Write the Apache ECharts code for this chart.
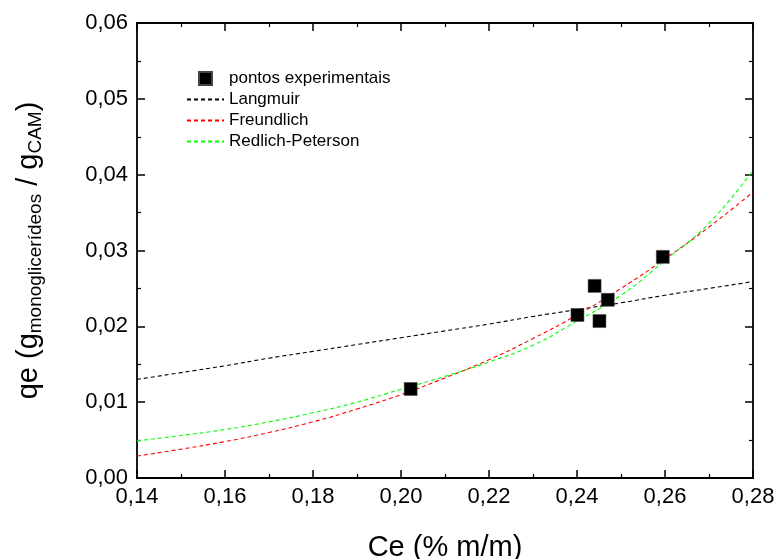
<!DOCTYPE html>
<html>
<head>
<meta charset="utf-8">
<script src="https://cdn.jsdelivr.net/npm/echarts@6/dist/echarts.min.js"></script>
<style>html,body{margin:0;padding:0;background:#fff}#c{width:776px;height:559px}</style>
</head>
<body>
<div id="c"></div>
<script>
// Experimental points
var expCe = [0.2022, 0.2401, 0.2440, 0.2451, 0.2470, 0.2595];
var expQe = [0.01174, 0.0215, 0.02533, 0.0207, 0.0235, 0.02916];
// Model curves at these Ce values
var curveCe = [0.14, 0.15, 0.16, 0.17, 0.18, 0.19, 0.20, 0.21, 0.22, 0.23, 0.24, 0.25, 0.26, 0.27, 0.28];
var langmuir = [0.0130, 0.0139, 0.0148, 0.0158, 0.0167, 0.0176, 0.0185, 0.0194, 0.0203, 0.0213, 0.0222, 0.0231, 0.0241, 0.0250, 0.0259];
var freundlich = [0.0029, 0.0038, 0.0048, 0.0060, 0.0074, 0.0091, 0.0110, 0.0132, 0.0156, 0.0184, 0.0215, 0.0250, 0.0289, 0.0331, 0.0377];
var redlich = [0.0049, 0.0056, 0.0064, 0.0074, 0.0086, 0.0100, 0.0117, 0.0134, 0.0153, 0.0175, 0.0207, 0.0241, 0.0287, 0.0336, 0.0406];
var seriesNames = ['pontos experimentais', 'Langmuir', 'Freundlich', 'Redlich-Peterson'];

function pairs(xs, ys) { return xs.map(function (x, i) { return [x, ys[i]]; }); }
var FONT = 'Liberation Sans, Arial, sans-serif';
function fmt(v) { return v.toFixed(2).replace('.', ','); }

var axisCommon = {
  axisLine: { show: true, onZero: false, lineStyle: { color: '#000', width: 1.8 } },
  axisTick: { show: true, inside: true, length: 8, lineStyle: { color: '#000', width: 1.5 } },
  minorTick: { show: true, splitNumber: 2, length: 4, lineStyle: { color: '#000', width: 1.2 } },
  splitLine: { show: false }
};
var hideSym = { opacity: 0 };

var chart = echarts.init(document.getElementById('c'), null, { renderer: 'canvas' });
chart.setOption({
  animation: false,
  backgroundColor: '#fff',
  grid: { left: 137, right: 23, top: 23, bottom: 81, containLabel: false, outerBoundsMode: 'none' },
  legend: {
    orient: 'vertical', left: 181, top: 65,
    itemWidth: 37, itemHeight: 13, itemGap: 4,
    textStyle: { fontFamily: FONT, fontSize: 17, color: '#000' },
    data: [
      { name: seriesNames[0], icon: 'path://M0,0h13v13h-13z', itemStyle: { color: '#000', opacity: 1 } },
      { name: seriesNames[1], itemStyle: hideSym },
      { name: seriesNames[2], itemStyle: hideSym },
      { name: seriesNames[3], itemStyle: hideSym }
    ]
  },
  xAxis: [
    Object.assign({
      type: 'value', min: 0.14, max: 0.28, interval: 0.02, position: 'bottom',
      name: 'Ce (% m/m)', nameLocation: 'middle', nameGap: 55,
      nameTextStyle: { fontFamily: FONT, fontSize: 29, color: '#000' },
      axisLabel: { fontFamily: FONT, fontSize: 22, color: '#000', margin: 8, formatter: fmt }
    }, axisCommon),
    Object.assign({
      type: 'value', min: 0.14, max: 0.28, interval: 0.02, position: 'top',
      axisLabel: { show: false }
    }, axisCommon)
  ],
  yAxis: [
    Object.assign({
      type: 'value', min: 0, max: 0.06, interval: 0.01, position: 'left',
      name: '{a|qe (g}{s|monoglicerídeos}{a| / g}{s|CAM}{a|)}',
      nameLocation: 'middle', nameRotate: 90, nameGap: 91,
      nameTextStyle: {
        fontFamily: FONT, color: '#000',
        rich: {
          a: { fontFamily: FONT, fontSize: 29, color: '#000', lineHeight: 34 },
          s: { fontFamily: FONT, fontSize: 19, color: '#000', lineHeight: 34, padding: [13, 0, 0, 0] }
        }
      },
      axisLabel: { fontFamily: FONT, fontSize: 22, color: '#000', margin: 9, formatter: fmt }
    }, axisCommon),
    Object.assign({
      type: 'value', min: 0, max: 0.06, interval: 0.01, position: 'right',
      axisLabel: { show: false }
    }, axisCommon)
  ],
  series: [
    {
      name: seriesNames[0], type: 'scatter', symbol: 'rect', symbolSize: 13,
      itemStyle: { color: '#000', opacity: 1, borderColor: '#444', borderWidth: 0.5 },
      data: pairs(expCe, expQe), z: 5
    },
    {
      name: seriesNames[1], type: 'line', smooth: true, symbol: 'none',
      lineStyle: { color: '#000', width: 1.1, type: [4, 3] }, itemStyle: { color: '#000' },
      data: pairs(curveCe, langmuir)
    },
    {
      name: seriesNames[2], type: 'line', smooth: true, symbol: 'none',
      lineStyle: { color: '#ff0000', width: 1.1, type: [4, 3] }, itemStyle: { color: '#ff0000' },
      data: pairs(curveCe, freundlich)
    },
    {
      name: seriesNames[3], type: 'line', smooth: true, symbol: 'none',
      lineStyle: { color: '#00ff00', width: 1.1, type: [4, 3] }, itemStyle: { color: '#00ff00' },
      data: pairs(curveCe, redlich)
    }
  ]
});
</script>
</body>
</html>
